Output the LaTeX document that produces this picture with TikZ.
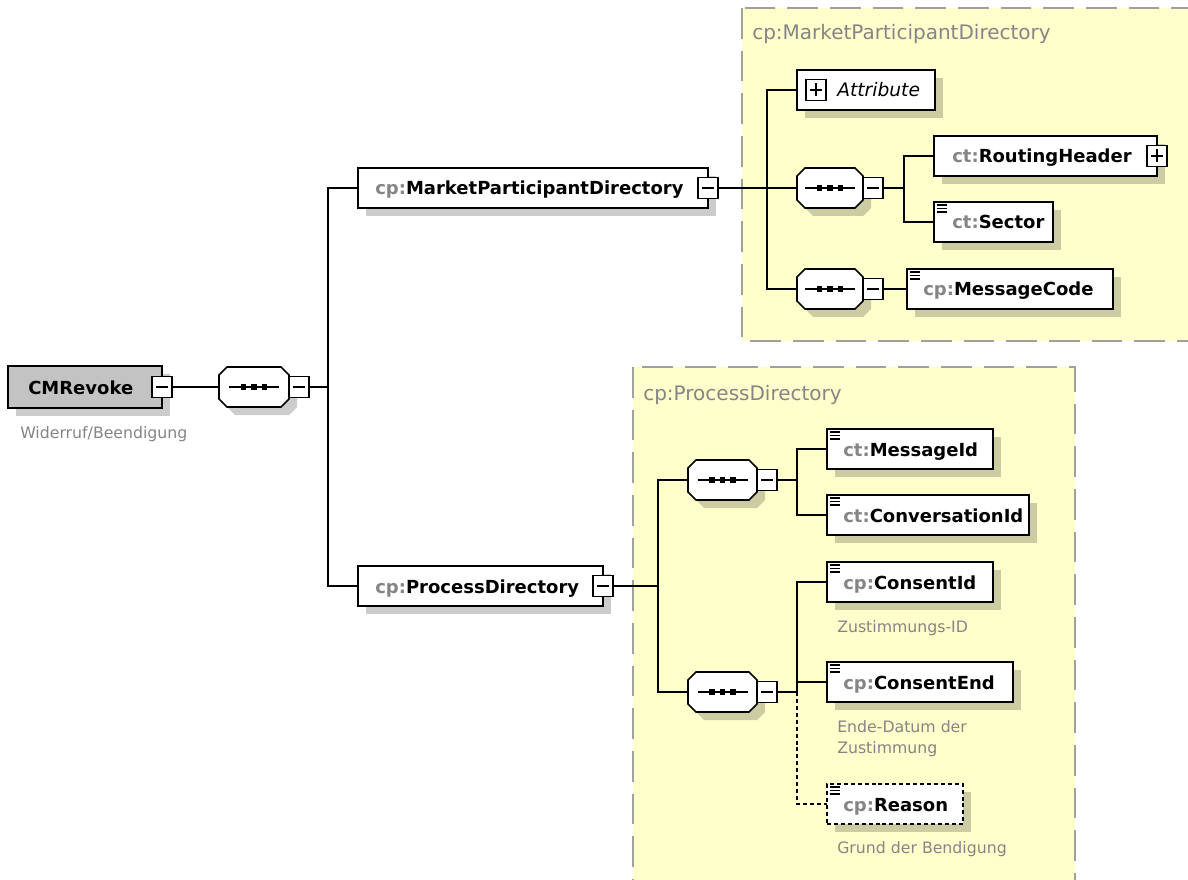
\documentclass[tikz,border=0pt]{standalone}
\usepackage{fontspec}
\setmainfont{DejaVu Sans}
\usetikzlibrary{shadows,calc}
\definecolor{ylw}{HTML}{FFFFCC}
\definecolor{ybord}{HTML}{A0A0A0}
\definecolor{pfx}{HTML}{858585}
\definecolor{elgray}{HTML}{C3C3C3}
\def\px{*0.75pt}
\tikzset{
 shd/.style={drop shadow={shadow xshift=6pt,shadow yshift=-6pt,fill=black,opacity=0.2}},
 conn/.style={line width=1.3pt},
 elbox/.style={draw,line width=1.3pt,fill=white,rectangle,inner sep=0pt,outer sep=0pt,anchor=north west,shd},
 optbox/.style={elbox,dash pattern=on 3pt off 2.2pt},
 rootbox/.style={elbox,fill=elgray},
 cmpframe/.style={rectangle,inner sep=0pt,outer sep=0pt,anchor=north west},
 oct/.style={draw,line width=1.3pt,fill=white,shd},
 smallbox/.style={draw,fill=white,line width=1.1pt,inner sep=0pt,outer sep=0pt,minimum width=20\px,minimum height=21\px},
 minbox/.style={smallbox,path picture={\draw[line width=1.1pt] ($(path picture bounding box.west)+(4,0)$) -- ($(path picture bounding box.east)+(-4,0)$);}},
 plusbox/.style={smallbox,path picture={\draw[line width=1.1pt] ($(path picture bounding box.west)+(4,0)$) -- ($(path picture bounding box.east)+(-4,0)$) ($(path picture bounding box.north)+(0,4)$) -- ($(path picture bounding box.south)+(0,-4)$);}},
 nmtxt/.style={inner sep=0pt,anchor=base west,font=\fontsize{13.5pt}{16pt}\selectfont\bfseries},
 attrtxt/.style={inner sep=0pt,anchor=base west,font=\fontsize{14pt}{16pt}\selectfont\itshape},
 desc/.style={inner sep=0pt,anchor=base west,text=pfx,font=\fontsize{11.8pt}{14pt}\selectfont},
 ttl/.style={inner sep=0pt,anchor=base west,text=pfx,font=\fontsize{15pt}{18pt}\selectfont},
 yarea/.style={fill=ylw,draw=ybord,line width=1.2pt,dash pattern=on 23pt off 9pt},
}
\newcommand\mkbox[6]{\node[#1,minimum width=#5\px,minimum height=#6\px] (#2) at (#3,#4) {};}
\newcommand\mkname[5]{\node[nmtxt] (#1) at ($(#2.west)+(#3,7)$) {\textcolor{pfx}{#4}#5};}
\newcommand\mkicon[1]{\foreach \dy in {3,6.5,10} {\draw[line width=1.1pt] ($(#1.north west)+(2.5,\dy)$) -- ++(10,0);}}
\newcommand\mkcmp[4]{%
 \node[cmpframe,minimum width=#4\px,minimum height=40\px] (#1) at (#2,#3) {};
 \draw[oct] ($(#1.north west)+(8,0)$) -- ($(#1.north east)+(-8,0)$) -- ($(#1.north east)+(0,8)$) -- ($(#1.south east)+(0,-8)$) -- ($(#1.south east)+(-8,0)$) -- ($(#1.south west)+(8,0)$) -- ($(#1.south west)+(0,-8)$) -- ($(#1.north west)+(0,8)$) -- cycle;
 \draw[line width=1pt] ($(#1.center)+(-25,0)$) -- ($(#1.center)+(25,0)$);
 \foreach \dd in {-10.5,0,10.5} {\fill ($(#1.center)+(\dd,0)+(-2.6,-2.6)$) rectangle +(5.2,5.2);}
 \node[minbox,anchor=west] (#1m) at (#1.east) {};
}
\begin{document}
\begin{tikzpicture}[x=0.75pt,y=-0.75pt]
\useasboundingbox (0,0) rectangle (1188,880);
\clip (0,0) rectangle (1188,880);
\fill[white] (0,0) rectangle (1188,880);
% yellow areas
\path[yarea] (742,8) rectangle (1215,341);
\path[yarea] (633,367) rectangle (1075,905);
\node[ttl] (ttl-mpd) at (752,40) {cp:MarketParticipantDirectory};
\node[ttl] (ttl-pd) at (643,400) {cp:ProcessDirectory};
% root
\mkbox{rootbox}{root}{8}{366}{154}{42}
\node[minbox] (rootm) at (root.east) {};
\mkname{root-t}{root}{20}{}{CMRevoke}
\node[desc] (root-d) at (20,438) {Widerruf/Beendigung};
\mkcmp{c1}{219}{367}{70}
% level 1
\mkbox{elbox}{mpd}{358}{168}{350}{40}
\node[minbox] (mpdm) at (mpd.east) {};
\mkname{mpd-t}{mpd}{17}{cp:}{MarketParticipantDirectory}
\mkbox{elbox}{pd}{358}{566}{245}{40}
\node[minbox] (pdm) at (pd.east) {};
\mkname{pd-t}{pd}{17}{cp:}{ProcessDirectory}
% top area
\mkbox{elbox}{attr}{797}{70}{138}{40}
\node[plusbox,anchor=west] (attrp) at ($(attr.west)+(9,0)$) {};
\node[attrtxt] (attr-t) at ($(attr.west)+(40,7)$) {Attribute};
\mkcmp{c2}{797}{168}{66}
\mkbox{elbox}{rh}{934}{136}{223}{40}
\node[plusbox] (rhp) at (rh.east) {};
\mkname{rh-t}{rh}{18}{ct:}{RoutingHeader}
\mkbox{elbox}{sec}{934}{202}{119}{40}
\mkicon{sec}
\mkname{sec-t}{sec}{18}{ct:}{Sector}
\mkcmp{c3}{797}{269}{66}
\mkbox{elbox}{mc}{907}{269}{206}{40}
\mkicon{mc}
\mkname{mc-t}{mc}{16}{cp:}{MessageCode}
% bottom area
\mkcmp{c4}{688}{460}{69}
\mkbox{elbox}{mid}{827}{429}{166}{40}
\mkicon{mid}
\mkname{mid-t}{mid}{16}{ct:}{MessageId}
\mkbox{elbox}{cvid}{827}{495}{202}{40}
\mkicon{cvid}
\mkname{cvid-t}{cvid}{16}{ct:}{ConversationId}
\mkcmp{c5}{688}{672}{69}
\mkbox{elbox}{csid}{827}{562}{166}{40}
\mkicon{csid}
\mkname{csid-t}{csid}{16}{cp:}{ConsentId}
\node[desc] (csid-d) at (837,632) {Zustimmungs-ID};
\mkbox{elbox}{cse}{827}{662}{186}{40}
\mkicon{cse}
\mkname{cse-t}{cse}{16}{cp:}{ConsentEnd}
\node[desc] (cse-d1) at (837,732) {Ende-Datum der};
\node[desc] (cse-d2) at (837,753) {Zustimmung};
\mkbox{optbox}{rsn}{827}{784}{136}{40}
\mkicon{rsn}
\mkname{rsn-t}{rsn}{16}{cp:}{Reason}
\node[desc] (rsn-d) at (837,853) {Grund der Bendigung};
% connectors
\coordinate (j1) at (328,387);
\coordinate (j2) at (767,188);
\coordinate (j3) at (904,188);
\coordinate (j4) at (658,586);
\coordinate (j5) at (797,480);
\coordinate (j6) at (797,692);
\draw[conn] (rootm.east) -- (c1.west);
\draw[conn] (c1m.east) -- (j1);
\draw[conn] (mpd.west) -| (j1) |- (pd.west);
\draw[conn] (mpdm.east) -- (c2.west);
\draw[conn] (attr.west) -| (j2) |- (c3.west);
\draw[conn] (c2m.east) -- (j3);
\draw[conn] (rh.west) -| (j3) |- (sec.west);
\draw[conn] (c3m.east) -- (mc.west);
\draw[conn] (pdm.east) -- (j4);
\draw[conn] (c4.west) -| (j4) |- (c5.west);
\draw[conn] (c4m.east) -- (j5);
\draw[conn] (mid.west) -| (j5) |- (cvid.west);
\draw[conn] (c5m.east) -- (j6);
\draw[conn] (csid.west) -| (j6);
\draw[conn] (cse.west) -- (cse.west -| j6);
\draw[conn,dash pattern=on 3pt off 2.2pt] (j6) |- (rsn.west);
\end{tikzpicture}
\end{document}
